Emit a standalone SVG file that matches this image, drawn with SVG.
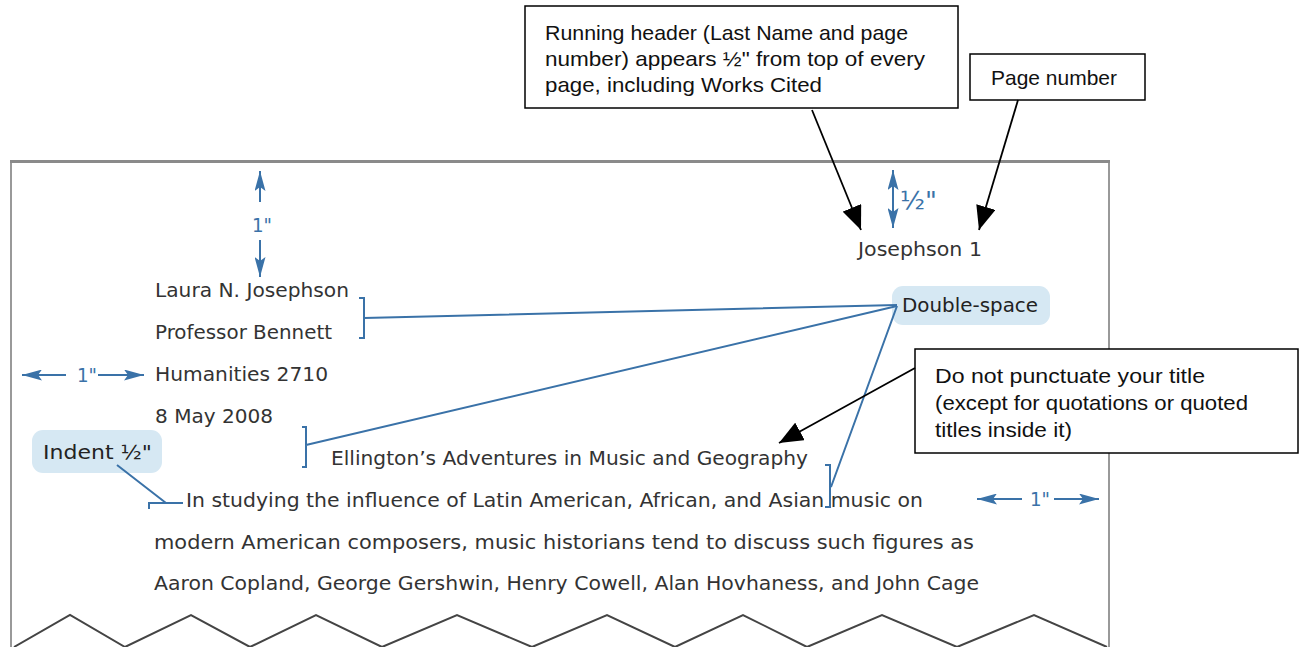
<svg xmlns="http://www.w3.org/2000/svg" width="1299" height="647" viewBox="0 0 1299 647">
<defs>
<marker id="blk" viewBox="0 0 24 20" refX="24" refY="10" markerWidth="24" markerHeight="20" markerUnits="userSpaceOnUse" orient="auto"><path d="M0,0 L24,10 L0,20 Z" fill="#000"/></marker>
<marker id="blu" viewBox="0 0 20 11" refX="20" refY="5.5" markerWidth="20" markerHeight="11" markerUnits="userSpaceOnUse" orient="auto"><path d="M0,0 L20,5.5 L0,11 L4,5.5 Z" fill="#3a72a8"/></marker>
<style>
.box{fill:#fff;stroke:#000;stroke-width:1.5}
.ct{font-family:"Liberation Sans",Arial,sans-serif;font-size:21px;fill:#111}
.pg{font-family:"DejaVu Sans",Verdana,sans-serif;font-size:19px;fill:#333}
.bl{stroke:#3a72a8;stroke-width:2;fill:none}
.bt{font-family:"DejaVu Sans",Verdana,sans-serif;font-size:20px;fill:#3a72a8}
.bub{fill:#d6e8f3}
.bubt{font-family:"DejaVu Sans",Verdana,sans-serif;font-size:19px;fill:#222}
.ar{stroke:#000;stroke-width:1.8;fill:none}
</style>
</defs>
<g id="page">
<path d="M11,647 V161 H1109 V647" fill="none" stroke="#999" stroke-width="2"/>
<line x1="10" y1="161.5" x2="1110" y2="161.5" stroke="#8a8a8a" stroke-width="3"/>
<polyline points="14,647 70,615 125,647 191,615 250,647 316,615 382,647 457,615 532,647 607,615 675,647 743,615 807,647 882,615 957,647 1034,615 1107,647" fill="none" stroke="#444" stroke-width="2"/>
</g>
<g id="page-text">
<text class="pg" x="858" y="256" textLength="124" lengthAdjust="spacingAndGlyphs">Josephson 1</text>
<text class="pg" x="155" y="297" textLength="194" lengthAdjust="spacingAndGlyphs">Laura N. Josephson</text>
<text class="pg" x="155" y="339" textLength="177" lengthAdjust="spacingAndGlyphs">Professor Bennett</text>
<text class="pg" x="155" y="381" textLength="173" lengthAdjust="spacingAndGlyphs">Humanities 2710</text>
<text class="pg" x="155" y="423" textLength="118" lengthAdjust="spacingAndGlyphs">8 May 2008</text>
<text class="pg" x="331" y="465" textLength="477" lengthAdjust="spacingAndGlyphs">Ellington’s Adventures in Music and Geography</text>
<text class="pg" x="186" y="507" textLength="737" lengthAdjust="spacingAndGlyphs">In studying the influence of Latin American, African, and Asian music on</text>
<text class="pg" x="154" y="549" textLength="820" lengthAdjust="spacingAndGlyphs">modern American composers, music historians tend to discuss such figures as</text>
<text class="pg" x="154" y="590" textLength="825" lengthAdjust="spacingAndGlyphs">Aaron Copland, George Gershwin, Henry Cowell, Alan Hovhaness, and John Cage</text>
</g>
<g id="margin-top">
<line class="bl" x1="260" y1="202" x2="260" y2="171" marker-end="url(#blu)"/>
<line class="bl" x1="260" y1="240" x2="260" y2="277" marker-end="url(#blu)"/>
<text class="bt" x="262" y="232" text-anchor="middle" textLength="20" lengthAdjust="spacingAndGlyphs">1"</text>
</g>
<g id="margin-header">
<line class="bl" x1="893" y1="198" x2="893" y2="170" marker-end="url(#blu)"/>
<line class="bl" x1="893" y1="198" x2="893" y2="228" marker-end="url(#blu)"/>
<text class="bt" x="900" y="209" style="font-size:24px" textLength="37" lengthAdjust="spacingAndGlyphs">½"</text>
</g>
<g id="margin-left">
<line class="bl" x1="66" y1="375" x2="22" y2="375" marker-end="url(#blu)"/>
<line class="bl" x1="98" y1="375" x2="144" y2="375" marker-end="url(#blu)"/>
<text class="bt" x="87" y="382" text-anchor="middle" textLength="20" lengthAdjust="spacingAndGlyphs">1"</text>
</g>
<g id="margin-right">
<line class="bl" x1="1022" y1="499" x2="977" y2="499" marker-end="url(#blu)"/>
<line class="bl" x1="1054" y1="499" x2="1099" y2="499" marker-end="url(#blu)"/>
<text class="bt" x="1040" y="506" text-anchor="middle" textLength="20" lengthAdjust="spacingAndGlyphs">1"</text>
</g>
<g id="double-space">
<rect class="bub" x="892" y="286" width="158" height="39" rx="11"/>
<text class="bubt" x="902" y="312" textLength="136" lengthAdjust="spacingAndGlyphs">Double-space</text>
</g>
<g id="indent">
<rect class="bub" x="32" y="430" width="130" height="43" rx="11"/>
<text class="bubt" x="43" y="459" textLength="109" lengthAdjust="spacingAndGlyphs">Indent ½"</text>
</g>
<g id="callout-header">
<rect class="box" x="525" y="6" width="433" height="102"/>
<text class="ct" x="545" y="40" textLength="363" lengthAdjust="spacingAndGlyphs">Running header (Last Name and page</text>
<text class="ct" x="545" y="66" textLength="380" lengthAdjust="spacingAndGlyphs">number) appears ½" from top of every</text>
<text class="ct" x="545" y="92" textLength="277" lengthAdjust="spacingAndGlyphs">page, including Works Cited</text>
</g>
<g id="callout-page-number">
<rect class="box" x="970" y="54" width="175" height="46"/>
<text class="ct" x="991" y="85" textLength="126" lengthAdjust="spacingAndGlyphs">Page number</text>
</g>
<g id="callout-title">
<rect class="box" x="915" y="349" width="383" height="104"/>
<text class="ct" x="935" y="383" textLength="270" lengthAdjust="spacingAndGlyphs">Do not punctuate your title</text>
<text class="ct" x="935" y="410" textLength="313" lengthAdjust="spacingAndGlyphs">(except for quotations or quoted</text>
<text class="ct" x="935" y="437" textLength="137" lengthAdjust="spacingAndGlyphs">titles inside it)</text>
</g>
<g id="connectors">
<path class="bl" d="M359,298 H364 V338 H359 M364,318 L897,305"/>
<path class="bl" d="M302,427 H306 V467 H302 M306,445 L897,306"/>
<path class="bl" d="M825,465 H830 V507 H825 M831,487 L897,306"/>
<path class="bl" d="M149,509 V503 H183 M117,465 L166,503"/>
<line class="ar" x1="812" y1="110" x2="861" y2="230" marker-end="url(#blk)"/>
<line class="ar" x1="1018" y1="100" x2="979" y2="230" marker-end="url(#blk)"/>
<line class="ar" x1="915" y1="368" x2="779" y2="443" marker-end="url(#blk)"/>
</g>
</svg>
